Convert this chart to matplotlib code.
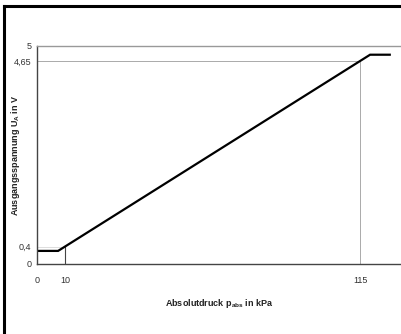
import matplotlib
matplotlib.use("Agg")
import matplotlib.pyplot as plt
from matplotlib.lines import Line2D

plt.rcParams['font.family'] = ['Liberation Sans', 'DejaVu Sans']
plt.rcParams['mathtext.default'] = 'regular'

# characteristic curve of the pressure sensor
pressure = [0, 7.5, 118.5, 125.5]      # kPa
voltage = [0.3, 0.3, 4.8, 4.8]         # V

# marked reference points
ref_low = (10, 0.4)
ref_high = (115, 4.65)

x_ticks = [0, 10, 115]
x_labels = ["0", "10", "115"]
y_ticks = [0, 0.4, 4.65, 5]
y_labels = ["0", "0,4", "4,65", "5"]

fig = plt.figure(figsize=(4.01, 3.34), dpi=100)
ax = fig.add_axes([0.0923, 0.2096, 0.9077, 0.6527])

# helper lines to the marked points
ax.plot([0, ref_high[0]], [ref_high[1], ref_high[1]], color='#aaaaaa', lw=0.7)
ax.plot([ref_high[0], ref_high[0]], [0, ref_high[1]], color='#aaaaaa', lw=0.7)
ax.plot([0, ref_low[0]], [ref_low[1], ref_low[1]], color='#dddddd', lw=0.7)
ax.plot([ref_low[0], ref_low[0]], [0, ref_low[1]], color='#444444', lw=0.8)

ax.plot(pressure, voltage, color='black', lw=1.6, solid_joinstyle='miter')

ax.set_xlim(0, 129.5)
ax.set_ylim(0, 5)
ax.set_xticks(x_ticks, x_labels)
ax.set_yticks(y_ticks, y_labels)
ax.tick_params(length=0, labelsize=6.5, colors='#333333')
ax.tick_params(axis='x', pad=9)
ax.tick_params(axis='y', pad=4)

for side in ['left', 'bottom']:
    ax.spines[side].set_color('#444444')
    ax.spines[side].set_linewidth(1.0)
ax.spines['top'].set_color('#999999')
ax.spines['top'].set_linewidth(1.0)
ax.spines['right'].set_visible(False)

ax.set_xlabel("Absolutdruck p$_{abs}$ in kPa", fontsize=6.5, fontweight='bold',
              color='#222222')
ax.set_ylabel("Ausgangsspannung U$_A$ in V", fontsize=6.5, fontweight='bold',
              color='#222222')
ax.xaxis.set_label_coords(0.5, -0.179)
ax.yaxis.set_label_coords(-0.060, 0.5)
ax.xaxis.label.set_va('center')
ax.yaxis.label.set_va('center')

# frame of the original figure (left and top edge)
fig.add_artist(Line2D([0.01, 0.01], [0.0, 0.982], color='black', lw=2.2,
                      transform=fig.transFigure, solid_capstyle='projecting'))
fig.add_artist(Line2D([0.01, 1.0], [0.982, 0.982], color='black', lw=2.2,
                      transform=fig.transFigure, solid_capstyle='projecting'))

fig.savefig("out.png", dpi=100, facecolor='white')
